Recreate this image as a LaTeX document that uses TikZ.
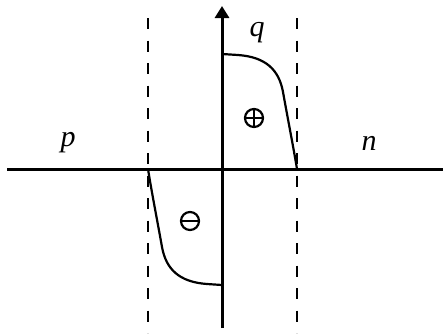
\documentclass[tikz,border=0pt]{standalone}
\usepackage{fontspec}
\setmainfont{Liberation Serif}
\usetikzlibrary{arrows.meta}
\begin{document}
\begin{tikzpicture}[x=1pt,y=-1pt,
  axis/.style={line width=3pt},
  dashline/.style={line width=2.7pt,dash pattern=on 11pt off 11.5pt},
  curve/.style={line width=2.2pt},
  lbl/.style={font=\fontsize{30}{32}\selectfont\itshape,inner sep=0pt},
  sym/.style={line width=2.2pt}]
\useasboundingbox (0,0) rectangle (443,333);
\coordinate (xl) at (7,169);
\coordinate (xr) at (443,169);
\coordinate (yb) at (222,328);
\coordinate (yt) at (222,6);
\draw[axis] (xl) -- (xr);
\draw[axis,-{Triangle[length=12pt,width=14pt]}] (yb) -- (yt);
\coordinate (d1t) at (148,18);
\coordinate (d1b) at (148,333);
\coordinate (d2t) at (297,18);
\coordinate (d2b) at (297,333);
\draw[dashline] (d1t) -- (d1b);
\draw[dashline] (d2t) -- (d2b);
% curves
\draw[curve] (222,54) -- (238,55) .. controls (266,57) and (279,70) .. (283,92) .. controls (288,120) and (293,145) .. (297,169);
\draw[curve] (222,285) -- (207,284) .. controls (179,282) and (166,269) .. (162,247) .. controls (157,219) and (152,194) .. (148,169);
% symbols
\node[draw,sym,circle,minimum size=18pt,inner sep=0pt] (plus) at (254,118) {};
\draw[sym] (plus.north) -- (plus.south) (plus.west) -- (plus.east);
\node[draw,sym,circle,minimum size=18pt,inner sep=0pt] (minus) at (190,221) {};
\draw[sym] (minus.west) -- (minus.east);
\node[lbl] (q) at (257,33) {q};
\node[lbl] (p) at (68,143) {p};
\node[lbl] (n) at (369,143) {n};
\end{tikzpicture}
\end{document}
